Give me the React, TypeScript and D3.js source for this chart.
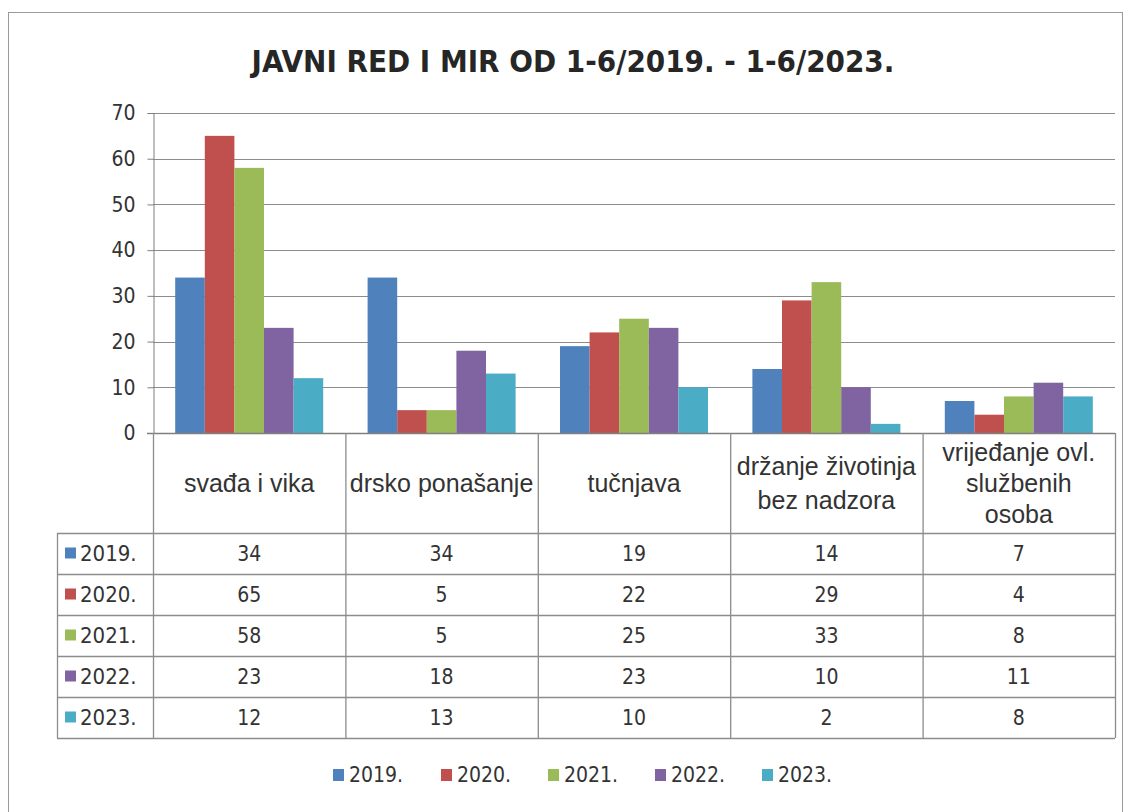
import { useEffect, useRef } from "react";
import * as d3 from "d3";

const categories = [
  "svađa i vika",
  "drsko ponašanje",
  "tučnjava",
  "držanje životinja bez nadzora",
  "vrijeđanje ovl. službenih osoba",
];
// how each category name wraps inside its table header cell
const categoryLines = [
  ["svađa i vika"],
  ["drsko ponašanje"],
  ["tučnjava"],
  ["držanje životinja", "bez nadzora"],
  ["vrijeđanje ovl.", "službenih", "osoba"],
];
const years = ["2019.", "2020.", "2021.", "2022.", "2023."];
const v2019 = [34, 34, 19, 14, 7];
const v2020 = [65, 5, 22, 29, 4];
const v2021 = [58, 5, 25, 33, 8];
const v2022 = [23, 18, 23, 10, 11];
const v2023 = [12, 13, 10, 2, 8];
const yTicks = [0, 10, 20, 30, 40, 50, 60, 70];
const title = "JAVNI RED I MIR OD 1-6/2019. - 1-6/2023.";

const colors = ["#4F81BD", "#C0504D", "#9BBB59", "#8064A2", "#4BACC6"];
const narrow = "'DejaVu Sans Condensed', sans-serif";
const arial = "'Liberation Sans', Arial, sans-serif";

function App() {
  const ref = useRef<SVGSVGElement>(null);

  useEffect(() => {
    const svg = d3.select(ref.current);
    svg.selectAll("*").remove();

    const series = [v2019, v2020, v2021, v2022, v2023];
    const left = 153, right = 1115, top = 113, bottom = 433;
    const rowH = 41, headerBottom = 533, tableLeft = 57;

    // outer chart border
    svg.append("rect")
      .attr("x", 8.5).attr("y", 12.5)
      .attr("width", 1114).attr("height", 820)
      .attr("fill", "white").attr("stroke", "#9a9a9a");

    svg.append("text")
      .attr("x", 573).attr("y", 72)
      .attr("text-anchor", "middle")
      .attr("font-family", narrow).attr("font-weight", "bold")
      .attr("font-size", 31).attr("fill", "#262626")
      .text(title);

    const x = d3.scaleBand().domain(categories).range([left, right]);
    const inner = d3.scaleBand<number>()
      .domain(d3.range(years.length))
      .range([0, x.bandwidth()])
      .paddingOuter(0.75).paddingInner(0);
    const y = d3.scaleLinear().domain([0, 70]).range([bottom, top]);

    // gridlines
    svg.append("g").selectAll("line").data(yTicks.filter((t) => t > 0)).enter()
      .append("line")
      .attr("x1", left).attr("x2", right)
      .attr("y1", (d) => Math.round(y(d)) + 0.5).attr("y2", (d) => Math.round(y(d)) + 0.5)
      .attr("stroke", "#8c8c8c").attr("stroke-width", 1.2);

    // bars
    series.forEach((vals, si) => {
      svg.append("g").selectAll("rect").data(vals).enter()
        .append("rect")
        .attr("x", (d, i) => (x(categories[i]) as number) + (inner(si) as number))
        .attr("y", (d) => y(d))
        .attr("width", inner.bandwidth())
        .attr("height", (d) => y(0) - y(d))
        .attr("fill", colors[si]);
    });

    // y axis
    const yAxis = svg.append("g").attr("transform", `translate(${left + 0.5},0)`)
      .call(d3.axisLeft(y).tickValues(yTicks).tickSize(6).tickPadding(12).tickFormat(d3.format("d")));
    yAxis.select(".domain").attr("stroke", "#7f7f7f");
    yAxis.selectAll(".tick line").attr("stroke", "#7f7f7f");
    yAxis.selectAll("text")
      .attr("font-family", narrow).attr("font-size", 21).attr("fill", "#333");

    // baseline / table top
    svg.append("line")
      .attr("x1", left - 6).attr("x2", right)
      .attr("y1", bottom + 0.5).attr("y2", bottom + 0.5)
      .attr("stroke", "#7f7f7f").attr("stroke-width", 1.3);

    const tableBottom = headerBottom + rowH * years.length;
    const grid = svg.append("g").attr("stroke", "#8c8c8c").attr("stroke-width", 1.3);
    // vertical column lines
    const bounds = categories.map((c) => x(c) as number).concat([right]);
    grid.selectAll("line.v").data(bounds).enter().append("line")
      .attr("x1", (d) => d + 0.5).attr("x2", (d) => d + 0.5)
      .attr("y1", bottom).attr("y2", tableBottom);
    grid.append("line")
      .attr("x1", tableLeft + 0.5).attr("x2", tableLeft + 0.5)
      .attr("y1", headerBottom).attr("y2", tableBottom);
    // horizontal row lines
    grid.selectAll("line.h").data(d3.range(years.length + 1)).enter().append("line")
      .attr("x1", tableLeft).attr("x2", right)
      .attr("y1", (d) => headerBottom + d * rowH + 0.5)
      .attr("y2", (d) => headerBottom + d * rowH + 0.5);

    // header labels
    categories.forEach((c, i) => {
      const lines = categoryLines[i];
      const cx = (x(c) as number) + x.bandwidth() / 2;
      const lh = lines.length === 2 ? 34 : 31;
      const startY = (bottom + headerBottom) / 2 - ((lines.length - 1) * lh) / 2;
      lines.forEach((ln, li) => {
        svg.append("text")
          .attr("x", cx).attr("y", startY + li * lh)
          .attr("dy", "0.35em")
          .attr("text-anchor", "middle")
          .attr("font-family", arial).attr("font-size", 25).attr("fill", "#333")
          .text(ln);
      });
    });

    // rows
    years.forEach((yr, ri) => {
      const cy = headerBottom + ri * rowH + rowH / 2;
      svg.append("rect")
        .attr("x", 65).attr("y", cy - 6).attr("width", 11).attr("height", 11)
        .attr("fill", colors[ri]);
      svg.append("text")
        .attr("x", 80).attr("y", cy).attr("dy", "0.35em")
        .attr("font-family", narrow).attr("font-size", 22).attr("fill", "#333")
        .text(yr);
      series[ri].forEach((v, ci) => {
        svg.append("text")
          .attr("x", (x(categories[ci]) as number) + x.bandwidth() / 2)
          .attr("y", cy).attr("dy", "0.35em")
          .attr("text-anchor", "middle")
          .attr("font-family", narrow).attr("font-size", 21).attr("fill", "#333")
          .text(v);
      });
    });

    // legend
    const legendX = [333, 441, 548, 655, 762];
    years.forEach((yr, i) => {
      svg.append("rect")
        .attr("x", legendX[i]).attr("y", 769).attr("width", 11).attr("height", 12)
        .attr("fill", colors[i]);
      svg.append("text")
        .attr("x", legendX[i] + 16).attr("y", 775).attr("dy", "0.35em")
        .attr("font-family", narrow).attr("font-size", 21).attr("fill", "#333")
        .text(yr);
    });
  }, []);

  return (
    <svg ref={ref} width={1130} height={812}
      style={{ position: "absolute", left: 0, top: 0, background: "white" }} />
  );
}

export default App;
